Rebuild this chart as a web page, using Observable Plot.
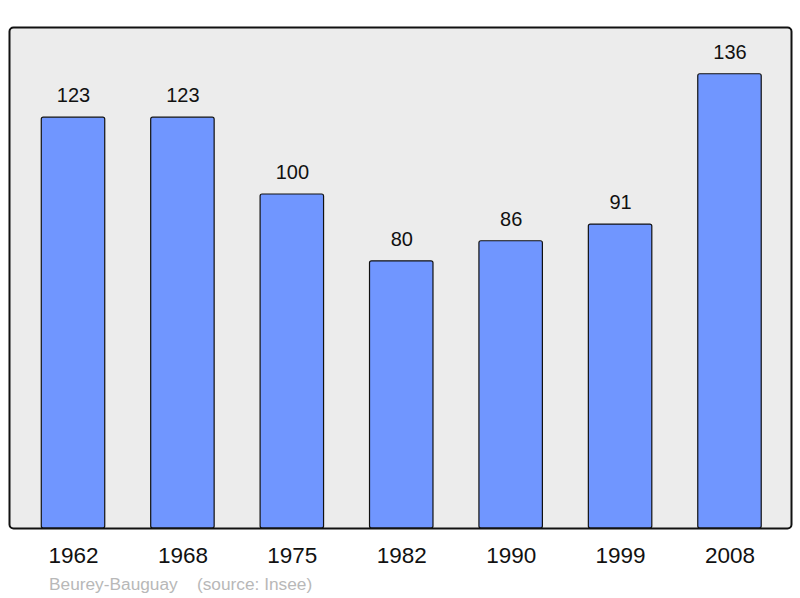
<!DOCTYPE html>
<html>
<head>
<meta charset="utf-8">
<script src="https://cdn.jsdelivr.net/npm/d3@7"></script>
<script src="https://cdn.jsdelivr.net/npm/@observablehq/plot@0.6"></script>
<style>
  body { margin: 0; background: #ffffff; font-family: "Liberation Sans", Arial, sans-serif; }
  #chart svg { display: block; }
  #caption { height: 28px; line-height: 28px; font-size: 17.3px; color: #b8b8b8; padding-left: 49px; white-space: pre; font-family: "Liberation Sans", Arial, sans-serif; }
</style>
</head>
<body>
<div id="chart"></div>
<div id="caption"></div>
<script>
const years = ["1962", "1968", "1975", "1982", "1990", "1999", "2008"];
const population = [123, 123, 100, 80, 86, 91, 136];
const town = "Beurey-Bauguay";
const source = "(source: Insee)";

const data = years.map((y, i) => ({year: y, value: population[i]}));

const chart = Plot.plot({
  width: 800,
  height: 570,
  marginTop: 27,
  marginLeft: 9,
  marginRight: 9,
  marginBottom: 42,
  style: {fontFamily: "'Liberation Sans', Arial, sans-serif", background: "white", overflow: "visible"},
  x: {domain: years, range: [18.3, 784.2], paddingInner: 0.42, paddingOuter: 0.21, align: 0.5, round: false, label: null},
  y: {domain: [0, 150], axis: null},
  marks: [
    Plot.frame({fill: "#ececec", stroke: "none", rx: 4}),
    Plot.barY(data, {x: "year", y: "value", fill: "#7096ff", stroke: "#111", strokeWidth: 1.2, rx: 2}),
    Plot.text(data, {x: "year", y: "value", text: d => String(d.value), dy: -22, fontSize: 20, fill: "#111"}),
    Plot.axisX({tickSize: 0, tickPadding: 19, fontSize: 22.5, color: "#111"}),
    Plot.frame({fill: "none", stroke: "#111", strokeWidth: 2, rx: 4})
  ]
});
document.getElementById("chart").append(chart);
document.getElementById("caption").textContent = town + "    " + source;
</script>
</body>
</html>
